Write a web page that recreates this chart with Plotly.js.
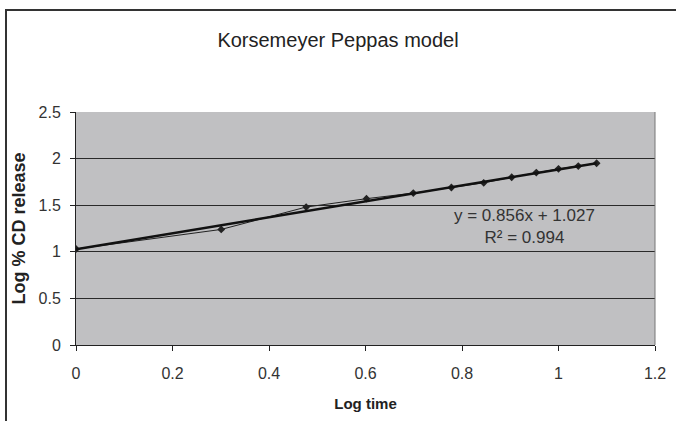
<!DOCTYPE html>
<html>
<head>
<meta charset="utf-8">
<script src="https://cdn.plot.ly/plotly-3.0.1.min.js"></script>
<style>
html,body{margin:0;padding:0;background:#fff;}
#chart{position:absolute;left:0;top:0;width:676px;height:421px;}
#frame{position:absolute;left:5px;top:9px;width:700px;height:440px;border-left:2px solid #333;border-top:2px solid #333;pointer-events:none;}
</style>
</head>
<body>
<div id="chart"></div>
<div id="frame"></div>
<script>
// Data
const logTime = [0, 0.301, 0.477, 0.602, 0.699, 0.778, 0.845, 0.903, 0.954, 1.0, 1.041, 1.079];
const logRelease = [1.03, 1.24, 1.48, 1.57, 1.63, 1.69, 1.74, 1.80, 1.85, 1.89, 1.92, 1.95];
const slope = 0.856;
const intercept = 1.027;
const xTicks = [0, 0.2, 0.4, 0.6, 0.8, 1, 1.2];
const xTickLabels = ['0', '0.2', '0.4', '0.6', '0.8', '1', '1.2'];
const yTicks = [0, 0.5, 1, 1.5, 2, 2.5];
const yTickLabels = ['0', '0.5', '1', '1.5', '2', '2.5'];

const trendX = [logTime[0], logTime[logTime.length - 1]];
const trendY = trendX.map(v => slope * v + intercept);

const font = 'Liberation Sans, Arial, sans-serif';

const data = [
  {
    x: logTime, y: logRelease, type: 'scatter', mode: 'lines+markers',
    line: {color: '#222', width: 1},
    marker: {symbol: 'diamond', size: 6, color: '#222'},
    showlegend: false, hoverinfo: 'x+y'
  },
  {
    x: trendX, y: trendY, type: 'scatter', mode: 'lines',
    line: {color: '#111', width: 2.5},
    showlegend: false, hoverinfo: 'skip'
  }
];

const layout = {
  width: 676, height: 421,
  margin: {l: 76, r: 21, t: 112, b: 76, pad: 0},
  paper_bgcolor: '#fff',
  plot_bgcolor: '#c0c0c2',
  title: {text: 'Korsemeyer Peppas model', x: 0.5, xanchor: 'center', y: 0.905, yanchor: 'middle',
          font: {family: font, size: 20, color: '#222'}},
  xaxis: {
    range: [0, 1.2], tickvals: xTicks, ticktext: xTickLabels,
    showgrid: false, zeroline: false, showline: true, linecolor: '#222', linewidth: 1,
    ticks: 'outside', ticklen: 5, tickcolor: '#222', ticklabelstandoff: 9,
    tickfont: {family: font, size: 16, color: '#333'},
    title: {text: 'Log time', font: {family: font, size: 15, color: '#222', weight: 'bold'}, standoff: 17}
  },
  yaxis: {
    range: [0, 2.5], tickvals: yTicks, ticktext: yTickLabels,
    showgrid: true, gridcolor: '#2a2a2a', gridwidth: 1.3, zeroline: false,
    showline: true, linecolor: '#222', linewidth: 1,
    ticks: 'outside', ticklen: 5, tickcolor: '#222', ticklabelstandoff: 6,
    tickfont: {family: font, size: 16, color: '#333'},
    title: {text: 'Log % CD release', font: {family: font, size: 18, color: '#222', weight: 'bold'}, standoff: 8}
  },
  shapes: [
    {type: 'line', xref: 'paper', yref: 'paper', x0: 1, x1: 1, y0: 0, y1: 1, line: {color: '#777', width: 1}}
  ],
  annotations: [
    {xref: 'paper', yref: 'paper', x: 0.775, y: 0.507, xanchor: 'center', yanchor: 'middle',
     text: 'y = 0.856x + 1.027<br>R² = 0.994',
     showarrow: false, align: 'center', font: {family: font, size: 17, color: '#333'}}
  ]
};

Plotly.newPlot('chart', data, layout, {displayModeBar: false, staticPlot: true});
</script>
</body>
</html>
